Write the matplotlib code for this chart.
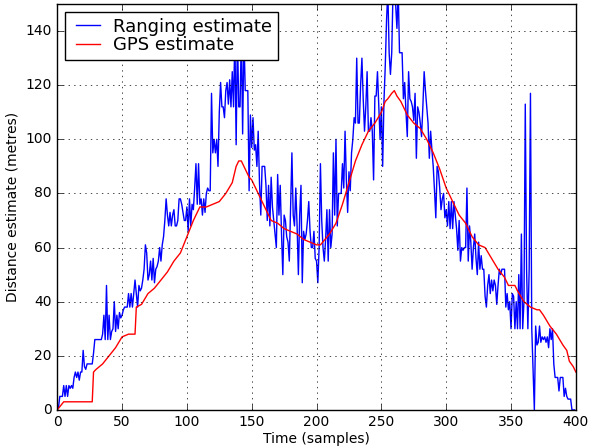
import numpy as np
from matplotlib import pyplot as plt

plt.style.use('classic')
plt.rcParams['font.size'] = 10

# ranging estimate, one value per sample (0..399)
ranging = [
    0, 1, 5, 5, 5, 9, 5, 9, 5, 9, 8, 9, 8, 12, 14, 12, 14, 11, 14, 14,
    22, 16, 15, 17, 17, 17, 17, 17, 21, 26, 26, 26, 26, 26, 26, 28, 35, 26, 46, 26,
    35, 26, 29, 30, 40, 29, 35, 30, 36, 34,
    35, 37, 38, 38, 38, 43, 38, 43, 38, 43, 48, 43, 38, 46, 44, 45, 48, 52, 61, 58,
    48, 50, 55, 48, 56, 47, 52, 53, 55, 60, 55, 61, 64, 70, 78, 72, 68, 73, 68, 72,
    74, 68, 68, 70, 78, 78, 76, 73, 70, 70,
    75, 66, 78, 68, 76, 74, 82, 91, 76, 91, 76, 78, 72, 78, 73, 80, 82, 81, 81, 117,
    95, 100, 95, 100, 90, 110, 121, 112, 112, 108, 118, 121, 113, 122, 112, 125, 112, 139, 98, 139,
    112, 112, 139, 102, 139, 118, 118, 118, 81, 109,
    97, 108, 96, 98, 90, 103, 84, 72, 90, 90, 90, 83, 70, 83, 68, 86, 75, 70, 65, 60,
    87, 72, 83, 65, 50, 72, 70, 64, 62, 55, 75, 95, 72, 68, 82, 68, 50, 72, 83, 47,
    66, 63, 65, 70, 77, 66, 60, 60, 66, 56,
    55, 47, 60, 91, 70, 60, 55, 63, 74, 55, 74, 60, 65, 95, 72, 100, 68, 80, 80, 80,
    91, 82, 103, 85, 73, 88, 81, 95, 100, 108, 106, 130, 106, 106, 120, 130, 115, 103, 112, 125,
    103, 103, 108, 103, 85, 116, 116, 125, 113, 100,
    112, 90, 114, 127, 144, 155, 132, 124, 132, 155, 155, 150, 141, 155, 132, 132, 132, 115, 121, 110,
    101, 125, 115, 114, 112, 107, 117, 93, 112, 110, 106, 101, 112, 125, 118, 112, 106, 93, 103, 96,
    90, 81, 71, 90, 88, 82, 74, 78, 80, 71,
    74, 68, 77, 67, 77, 67, 77, 72, 67, 59, 70, 55, 60, 59, 60, 60, 82, 55, 68, 62,
    52, 60, 65, 56, 50, 62, 52, 57, 52, 52, 42, 38, 46, 50, 43, 48, 44, 48, 46, 39,
    46, 52, 50, 52, 52, 52, 38, 43, 37, 40,
    30, 43, 42, 30, 40, 30, 50, 30, 65, 30, 40, 113, 52, 30, 52, 117, 30, 15, 0, 31,
    24, 25, 31, 25, 27, 26, 27, 25, 27, 23, 30, 26, 30, 17, 12, 12, 12, 7, 12, 12,
    12, 5, 8, 5, 4, 4, 4, 0, 0, 0,
]

# GPS estimate, read at breakpoints
gps_t = [0, 5, 27, 28, 30, 35, 40, 45, 50, 55, 60, 61, 65, 70, 75, 80, 85, 90, 95,
         100, 105, 110, 115, 120, 125, 130, 135, 138, 140, 142, 145, 148, 150,
         155, 160, 165, 170, 175, 180, 185, 190, 195, 200, 203, 210, 215, 220,
         225, 230, 235, 240, 245, 250, 253, 255, 258, 260, 262, 265, 270, 275,
         280, 285, 290, 295, 300, 305, 310, 315, 320, 325, 330, 335, 340, 345,
         348, 353, 355, 360, 365, 370, 372, 375, 380, 385, 390, 393, 395, 398, 400]
gps = [0, 3, 3, 14, 15, 17, 20, 23, 27, 28, 28, 38, 39, 43, 45, 48, 51, 55, 58,
       64, 70, 75, 75, 76, 77, 80, 84, 90, 92, 92, 89, 86, 85,
       80, 75, 70, 69, 67, 66, 65, 63, 62, 61, 61, 65, 69, 76,
       84, 92, 98, 103, 106, 110, 114, 115, 117, 118, 116, 114, 109, 106,
       104, 100, 95, 89, 82, 77, 72, 69, 64, 61, 60, 56, 52, 49,
       46, 46, 44, 40, 38, 37, 37, 35, 31, 28, 24, 22, 18, 16, 14]

fig = plt.figure(figsize=(5.9, 4.48), dpi=100, facecolor='white')
ax = fig.add_axes([0.097, 0.085, 0.879, 0.906])

ax.plot(np.arange(len(ranging)), ranging, 'b-', lw=1, label='Ranging estimate')
ax.plot(gps_t, gps, 'r-', lw=1, label='GPS estimate')

ax.set_xlim(0, 400)
ax.set_ylim(0, 150)
ax.set_xticks(range(0, 401, 50))
ax.set_yticks(range(0, 141, 20))
ax.grid(True)
ax.set_xlabel('Time (samples)', labelpad=2)
ax.set_ylabel('Distance estimate (metres)', labelpad=4)
ax.legend(loc='upper left', fontsize=13, borderaxespad=0.45, handlelength=1.9,
          handletextpad=0.45, borderpad=0.3, labelspacing=0.05)

fig.savefig('out.png', dpi=100, facecolor='white')
